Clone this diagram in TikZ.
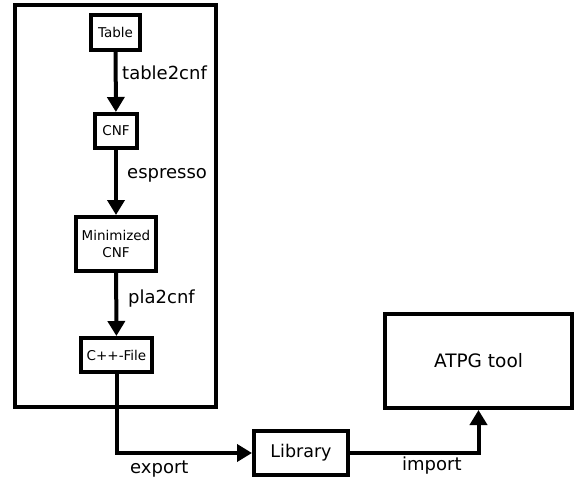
\documentclass[tikz,border=0pt]{standalone}
\usepackage{fontspec}
\setmainfont{DejaVu Sans}
\usetikzlibrary{arrows.meta}
\begin{document}
\begin{tikzpicture}[x=1pt,y=-1pt,
  box/.style={draw,line width=4pt,rectangle,inner sep=0pt,align=center,
    font=\fontsize{13.5}{17}\selectfont},
  lbl/.style={anchor=west,inner sep=0pt,font=\fontsize{18}{21}\selectfont},
  flow/.style={line width=4pt,-{Triangle[length=15pt,width=17pt]}}]
  \useasboundingbox (0,0) rectangle (579,487);
  % enclosing frame of the conversion chain
  \node[draw,line width=4pt,inner sep=0pt,minimum width=201pt,minimum height=402pt] (frame) at (115.5,206) {};
  % conversion chain
  \node[box,minimum width=49pt,minimum height=35pt] (table) at (115.5,32.5) {Table};
  \node[box,minimum width=42pt,minimum height=34pt] (cnf) at (116,131) {CNF};
  \node[box,minimum width=80pt,minimum height=54pt] (mincnf) at (116,244) {Minimized\\CNF};
  \node[box,minimum width=71pt,minimum height=34pt] (cpp) at (116.5,355) {C++-File};
  % library and tool
  \node[box,minimum width=94pt,minimum height=44pt,font=\fontsize{17.5}{20}\selectfont] (lib) at (301,453) {Library};
  \node[box,minimum width=187pt,minimum height=94pt,font=\fontsize{18.5}{22}\selectfont] (atpg) at (478.5,361) {ATPG tool};
  % connectors
  \draw[flow] (table) -- (cnf);
  \draw[flow] (cnf) -- (mincnf);
  \draw[flow] (mincnf) -- (cpp);
  \draw[flow] (cpp.south) |- (lib.west);
  \draw[flow] (lib.east) -| (atpg.south);
  % labels
  \node[lbl] (l1) at (122,73) {table2cnf};
  \node[lbl] (l2) at (127,175) {espresso};
  \node[lbl] (l3) at (128,299) {pla2cnf};
  \node[lbl] (l4) at (130,469) {export};
  \node[lbl] (l5) at (402,466) {import};
\end{tikzpicture}
\end{document}
